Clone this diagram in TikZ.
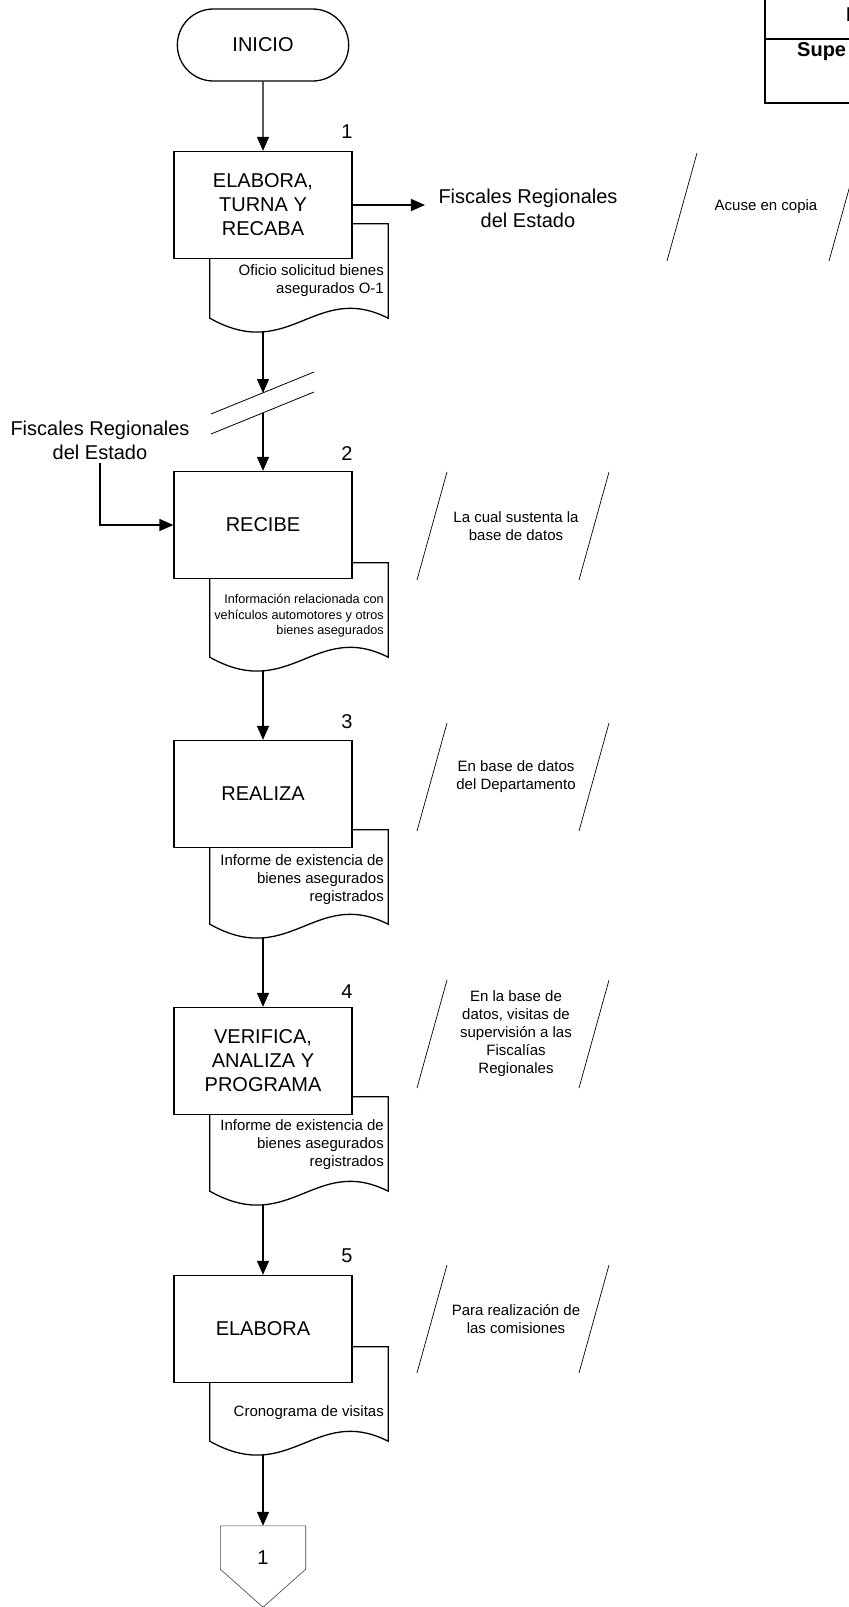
\documentclass[tikz,border=0pt]{standalone}
\usepackage{fontspec}
\setmainfont{Liberation Sans}
\usetikzlibrary{arrows.meta,calc,shapes.misc}
\newcommand{\fntbig}{\fontsize{20}{24}\selectfont}
\newcommand{\fntdoc}{\fontsize{15}{18}\selectfont}
\newcommand{\fntsmall}{\fontsize{12.7}{15.5}\selectfont}
\newcommand{\fntnote}{\fontsize{15}{18}\selectfont}

\begin{document}
\begin{tikzpicture}[x=1pt, y=-1pt,
    proc/.style = {draw, line width=1.3pt, fill=white, minimum width=178pt,
                   minimum height=107pt, align=center, font=\fntbig},
    doc/.style = {minimum width=178pt, minimum height=94pt, inner sep=0pt},
    doctxt/.style = {anchor=east, align=right, font=\fntdoc, inner sep=2pt},
    note/.style = {align=center, font=\fntnote},
    num/.style = {font=\fntbig},
    flow/.style = {line width=1.3pt, -{Triangle[length=14pt,width=12pt]}},
    slash/.style = {line width=0.7pt}]

    \useasboundingbox (0,0) rectangle (849,1607);
    \clip (0,0) rectangle (849,1607);

    \node[draw, rounded rectangle, line width=1.3pt, minimum width=178pt,
          minimum height=72pt, font=\fntbig] (inicio) at (263,45) {INICIO};

    % documentos, detras de las cajas
    \foreach \i/\y in {1/271,2/610,3/877,4/1144,5/1394} {
        \node[doc] (doc\i) at (299,\y) {};
        \draw[line width=1.3pt, fill=white] (doc\i.north west) -- (doc\i.north east)
            -- (doc\i.south east) .. controls +(-73,-37) and +(80,45) .. (doc\i.south west) -- cycle;
        \coordinate (out\i) at ($(doc\i.south)+(-36,14)$);
    }

    \node[proc] (box1) at (263,205) {ELABORA,\\TURNA Y\\RECABA};
    \node[proc] (box2) at (263,525) {RECIBE};
    \node[proc] (box3) at (263,794) {REALIZA};
    \node[proc] (box4) at (263,1061) {VERIFICA,\\ANALIZA Y\\PROGRAMA};
    \node[proc] (box5) at (263,1329) {ELABORA};

    \foreach \i/\y in {1/132,2/454,3/722,4/992,5/1256}
        \node[num] (num\i) at (347,\y) {\i};

    \node[doctxt] (txt1) at (386,281) {Oficio solicitud bienes\\asegurados O-1};
    \node[doctxt, font=\fntsmall] (txt2) at (386,616) {Información relacionada con\\vehículos automotores y otros\\bienes asegurados};
    \node[doctxt] (txt3) at (386,880) {Informe de existencia de\\bienes asegurados\\registrados};
    \node[doctxt] (txt4) at (386,1145) {Informe de existencia de\\bienes asegurados\\registrados};
    \node[doctxt] (txt5) at (386,1413) {Cronograma de visitas};

    % anotaciones
    \node[note] (ann1) at (766,207) {Acuse en copia};
    \node[note] (ann2) at (516,526) {La cual sustenta la\\base de datos};
    \node[note] (ann3) at (516,777) {En base de datos\\del Departamento};
    \node[note] (ann4) at (516,1034) {En la base de\\datos, visitas de\\supervisión a las\\Fiscalías\\Regionales};
    \node[note] (ann5) at (516,1319) {Para realización de\\las comisiones};
    \foreach \a in {1,...,5} {
        \draw[slash] ($(ann\a)+(-69,-54)$) -- ($(ann\a)+(-99,54)$);
        \draw[slash] ($(ann\a)+(93,-54)$) -- ($(ann\a)+(63,54)$);
    }

    \node[font=\fntbig, align=center] (fisc1) at (528,208) {Fiscales Regionales\\del Estado};
    \node[font=\fntbig, align=center] (fisc2) at (100,440) {Fiscales Regionales\\del Estado};

    % corte
    \coordinate (cutA) at (263,393);
    \coordinate (cutB) at (263,413);
    \foreach \c in {cutA,cutB}
        \draw[line width=0.8pt] ($(\c)+(-52,21)$) -- ($(\c)+(51,-21)$);

    \node[minimum width=85pt, minimum height=43pt, inner sep=0pt] (fin) at (263,1547.5) {};
    \draw[line width=0.6pt, black!75] (fin.north west) -- (fin.north east) -- (fin.south east)
        -- ($(fin.south)+(0,38)$) -- (fin.south west) -- cycle;
    \node[num] (finnum) at (263,1558) {1};

    \draw[flow] (inicio) -- (box1);
    \draw[flow, shorten >=10pt] (box1.east) -- (box1.east -| fisc1.west);
    \draw[flow] (out1) -- (cutA);
    \draw[flow] (cutB) -- (box2);
    \draw[flow] (fisc2.south) |- (box2.west);
    \draw[flow] (out2) -- (box3);
    \draw[flow] (out3) -- (box4);
    \draw[flow] (out4) -- (box5);
    \draw[flow] (out5) -- (fin);

    % tabla de encabezado
    \draw[line width=1.3pt] (765,-2) -- (765,103) -- (860,103);
    \draw[line width=1.3pt] (765,39) -- (860,39);
    \node[font=\fntbig\bfseries, anchor=west, inner sep=0pt] (tab1) at (846,15) {I};
    \node[font=\fntbig\bfseries, anchor=west, inner sep=0pt] (tab2) at (797,52) {Supe};
\end{tikzpicture}
\end{document}
